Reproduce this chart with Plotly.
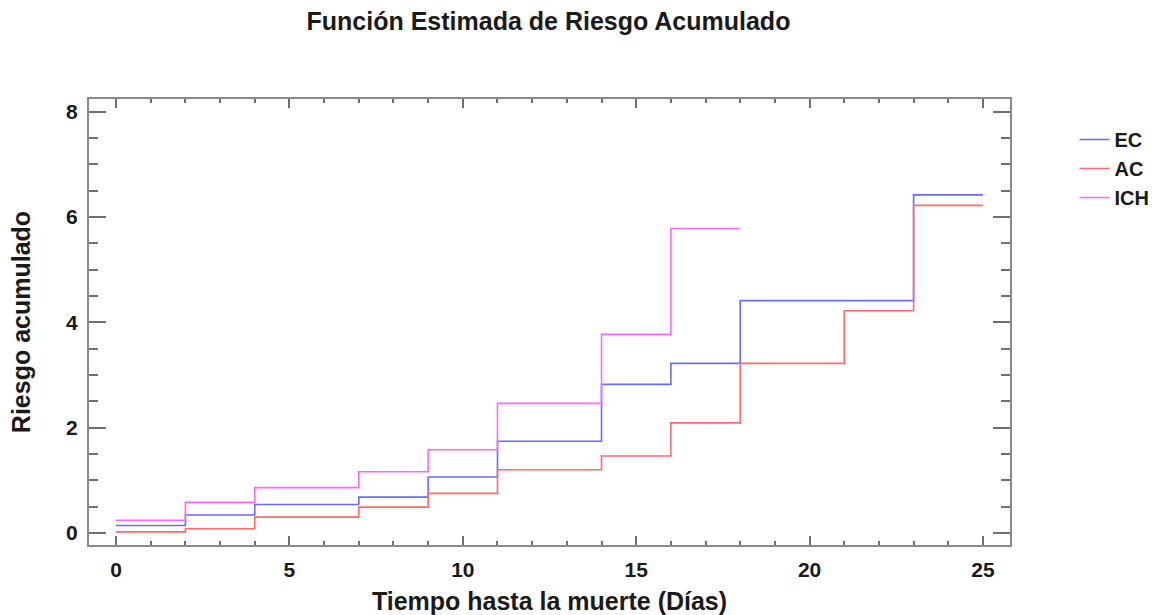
import plotly.graph_objects as go

# Data
ec_t = [0, 2, 4, 7, 9, 11, 14, 16, 18, 23, 25]
ec_h = [0.14, 0.34, 0.54, 0.68, 1.06, 1.74, 2.82, 3.22, 4.41, 6.42, 6.42]

ac_t = [0, 2, 4, 7, 9, 11, 14, 16, 18, 21, 23, 25]
ac_h = [0.02, 0.08, 0.30, 0.49, 0.75, 1.20, 1.46, 2.09, 3.22, 4.22, 6.22, 6.22]

ich_t = [0, 2, 4, 7, 9, 11, 14, 16, 18]
ich_h = [0.24, 0.58, 0.86, 1.16, 1.58, 2.46, 3.77, 5.78, 5.78]

series_names = ["EC", "AC", "ICH"]
series_colors = ["#6a6aff", "#ff6a6a", "#ff66ff"]

FONT = "Liberation Sans, Arial, sans-serif"
AXIS_GREY = "#8a8a8a"
TICK_GREY = "#707070"
TXT = "#1a1a1a"

fig = go.Figure()
for name, t, h, c in zip(series_names, [ec_t, ac_t, ich_t], [ec_h, ac_h, ich_h], series_colors):
    fig.add_trace(go.Scatter(
        x=t, y=h, mode="lines", name=name,
        line=dict(color=c, width=1.6, shape="hv"),
    ))

fig.update_layout(
    width=1167, height=615,
    margin=dict(l=89, r=155, t=99, b=70),
    paper_bgcolor="white", plot_bgcolor="white",
    title=dict(
        text="Función Estimada de Riesgo Acumulado",
        x=0.47, xref="container", xanchor="center",
        y=1 - 21 / 615, yref="container", yanchor="middle",
        font=dict(family=FONT, size=25, color=TXT, weight="bold"),
    ),
    legend=dict(
        x=1.07, xanchor="left", y=1 - 21 / 446, yanchor="top",
        font=dict(family=FONT, size=20, color=TXT, weight="bold"),
        bgcolor="rgba(0,0,0,0)", tracegroupgap=0,
    ),
    showlegend=True,
)

fig.update_xaxes(
    range=[-0.78, 25.78], showgrid=False, zeroline=False, automargin=False,
    showline=True, linecolor=AXIS_GREY, linewidth=2, mirror="ticks",
    ticks="inside", ticklen=9, tickwidth=1.5, tickcolor=TICK_GREY,
    tick0=0, dtick=5, ticklabelstandoff=5,
    minor=dict(ticks="inside", ticklen=4, tickwidth=1.5, tickcolor=TICK_GREY, dtick=1, showgrid=False),
    tickfont=dict(family=FONT, size=21, color=TXT, weight="bold"),
    title=dict(text="Tiempo hasta la muerte (Días)", standoff=14,
               font=dict(family=FONT, size=25, color=TXT, weight="bold")),
)
fig.update_yaxes(
    range=[-0.23, 8.24], showgrid=False, zeroline=False, automargin=False,
    showline=True, linecolor=AXIS_GREY, linewidth=2, mirror="ticks",
    ticks="inside", ticklen=17, tickwidth=1.5, tickcolor=TICK_GREY,
    tick0=0, dtick=2, ticklabelstandoff=5,
    minor=dict(ticks="inside", ticklen=9, tickwidth=1.5, tickcolor=TICK_GREY, dtick=0.5, showgrid=False),
    tickfont=dict(family=FONT, size=21, color=TXT, weight="bold"),
    title=dict(text="Riesgo acumulado", standoff=28,
               font=dict(family=FONT, size=25, color=TXT, weight="bold")),
)

fig.write_html("out.html", config={"displayModeBar": False},
               post_script="document.body.style.margin='0';")
